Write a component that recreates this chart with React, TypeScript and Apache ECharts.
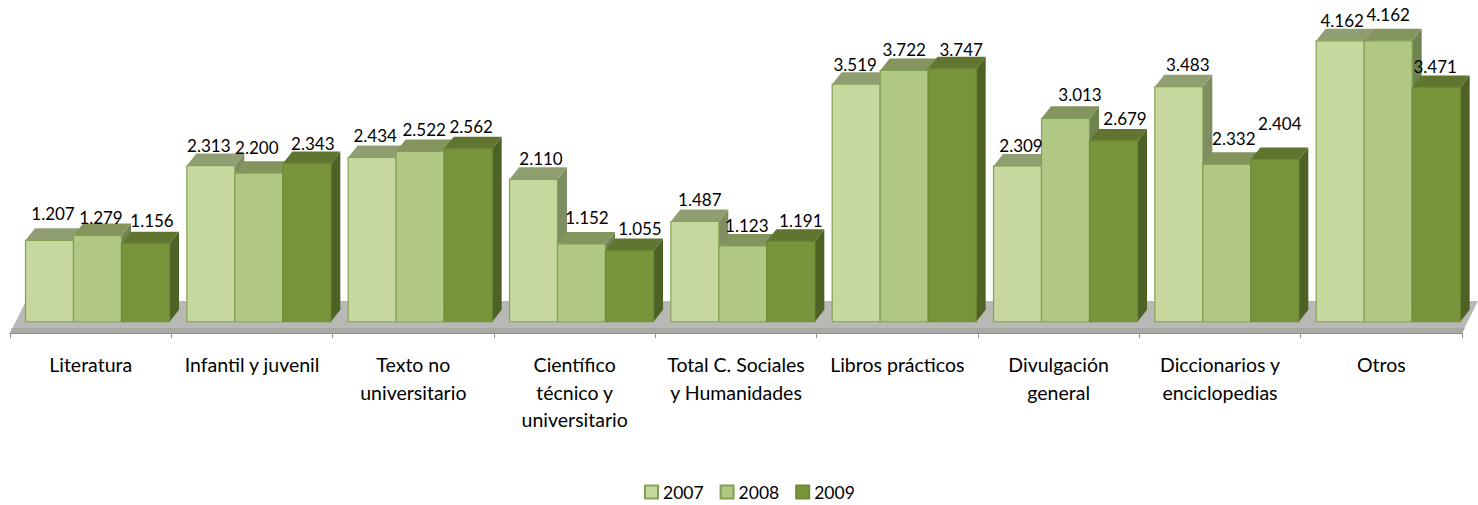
import React, { useEffect, useRef } from "react";
import * as echarts from "echarts";

const categories = [
  "Literatura",
  "Infantil y juvenil",
  "Texto no\nuniversitario",
  "Científico\ntécnico y\nuniversitario",
  "Total C. Sociales\ny Humanidades",
  "Libros prácticos",
  "Divulgación\ngeneral",
  "Diccionarios y\nenciclopedias",
  "Otros",
];
const years = ["2007", "2008", "2009"];
const values2007 = [1207, 2313, 2434, 2110, 1487, 3519, 2309, 3483, 4162];
const values2008 = [1279, 2200, 2522, 1152, 1123, 3722, 3013, 2332, 4162];
const values2009 = [1156, 2343, 2562, 1055, 1191, 3747, 2679, 2404, 3471];
const seriesValues = [values2007, values2008, values2009];

// Hand-placed data label nudges (px) seen in the reference, per year and category
const labelDx = [
  [3.5, -2, 3, 7.5, 5, -1, 3.5, 9, 2],
  [3.5, -2, 4, 5.5, 4, 0, 14.5, 7, 0],
  [6.5, 6, 3, 10.5, 10, 9, 11.5, 5, -1],
];
const labelDy = [
  [-27, -20.6, -22.4, -21, -22, -20, -20, -22, -20],
  [-18.4, -26.2, -22.5, -26, -20, -21.5, -24, -26, -26],
  [-23.7, -20.5, -22.8, -22.5, -21, -19, -22, -36, -21],
];

const FONT = "Lato";
const FRONT = ["#c6d89e", "#b0c884", "#78953c"];
const EDGE = ["#86a155", "#82a052", "#6c8a33"];
const TOP = ["#909f72", "#83945c", "#5f7530"];
const SIDE = ["#7f8d62", "#6f8350", "#4e6226"];

const GRID_LEFT = 10;
const GRID_WIDTH = 1452;
const GRID_TOP = 18;
const GRID_HEIGHT = 303.75;
const DEPTH_X = 9.5;
const DEPTH_Y = 12;

function barFrame(api: any, s: number) {
  const cat = api.value(0);
  const [cx, yTop] = api.coord([cat, api.value(1)]);
  const [, yBase] = api.coord([cat, 0]);
  const band = api.size([1, 0])[0];
  const w = (band * 48) / 161.33;
  const left = cx - band / 2 + (band * 15.5) / 161.33 + s * w;
  return { left, w, yTop, yBase, cat };
}

function barSeries(s: number) {
  return {
    type: "custom",
    name: years[s],
    z: 2 + s,
    itemStyle: { color: FRONT[s], borderColor: EDGE[s], borderWidth: 1 },
    data: seriesValues[s].map((v, i) => [i, v]),
    encode: { x: 0, y: 1 },
    renderItem: (_: any, api: any) => {
      const { left, w, yTop, yBase } = barFrame(api, s);
      const r = left + w;
      return {
        type: "group",
        children: [
          {
            type: "polygon",
            shape: {
              points: [
                [r, yTop],
                [r + DEPTH_X, yTop - DEPTH_Y],
                [r + DEPTH_X, yBase - DEPTH_Y],
                [r, yBase],
              ],
            },
            style: { fill: SIDE[s] },
          },
          {
            type: "polygon",
            shape: {
              points: [
                [left, yTop],
                [left + DEPTH_X, yTop - DEPTH_Y],
                [r + DEPTH_X, yTop - DEPTH_Y],
                [r, yTop],
              ],
            },
            style: { fill: TOP[s] },
          },
          {
            type: "rect",
            shape: { x: left, y: yTop, width: w, height: yBase - yTop },
            style: { fill: FRONT[s], stroke: EDGE[s], lineWidth: 1.2 },
          },
        ],
      };
    },
  };
}

const labelData: number[][] = [];
seriesValues.forEach((vals, s) => vals.forEach((v, i) => labelData.push([i, v, s])));

const labelSeries = {
  type: "custom",
  name: "labels",
  z: 10,
  data: labelData,
  encode: { x: 0, y: 1 },
  renderItem: (_: any, api: any) => {
    const s = api.value(2);
    const { left, w, yTop, cat } = barFrame(api, s);
    return {
      type: "text",
      style: {
        text: (api.value(1) / 1000).toFixed(3),
        x: left + w / 2 + labelDx[s][cat],
        y: yTop + labelDy[s][cat],
        align: "center",
        verticalAlign: "middle",
        fontFamily: FONT,
        fontSize: 17,
        fill: "#000",
      },
    };
  },
};

const floor = [
  {
    type: "polygon",
    z: 0,
    shape: { points: [[26, 301], [1478, 301], [1462, 333], [10, 333]] },
    style: { fill: "#b8b9b4" },
  },
  {
    type: "polygon",
    z: 0,
    shape: { points: [[12, 328], [1465, 328], [1462, 333], [10, 333]] },
    style: { fill: "#a8a9a4" },
  },
];

export default function App() {
  const ref = useRef<HTMLDivElement>(null);
  useEffect(() => {
    document.body.style.margin = "0";
    const chart = echarts.init(ref.current!, null, { renderer: "svg" });
    chart.setOption({
      animation: false,
      backgroundColor: "#fff",
      grid: { left: GRID_LEFT, width: GRID_WIDTH, top: GRID_TOP, height: GRID_HEIGHT },
      graphic: { elements: floor },
      legend: {
        data: years,
        left: 639,
        top: 478,
        itemWidth: 13,
        itemHeight: 13,
        itemGap: 16,
        icon: "rect",
        textStyle: { fontFamily: FONT, fontSize: 17.5, color: "#000" },
      },
      xAxis: {
        type: "category",
        data: categories,
        offset: 11.3,
        z: 5,
        axisLine: { show: true, onZero: false, lineStyle: { color: "#8f8f8f", width: 1 } },
        axisTick: { show: true, length: 5, inside: false, lineStyle: { color: "#8f8f8f", width: 1 } },
        axisLabel: {
          interval: 0,
          margin: 18,
          lineHeight: 27.5,
          fontFamily: FONT,
          fontSize: 19.5,
          color: "#000",
        },
      },
      yAxis: { type: "value", show: false, min: 0, max: 4500, splitLine: { show: false } },
      series: [barSeries(0), barSeries(1), barSeries(2), labelSeries],
    });
    return () => chart.dispose();
  }, []);
  return <div ref={ref} style={{ width: 1478, height: 505 }} />;
}
